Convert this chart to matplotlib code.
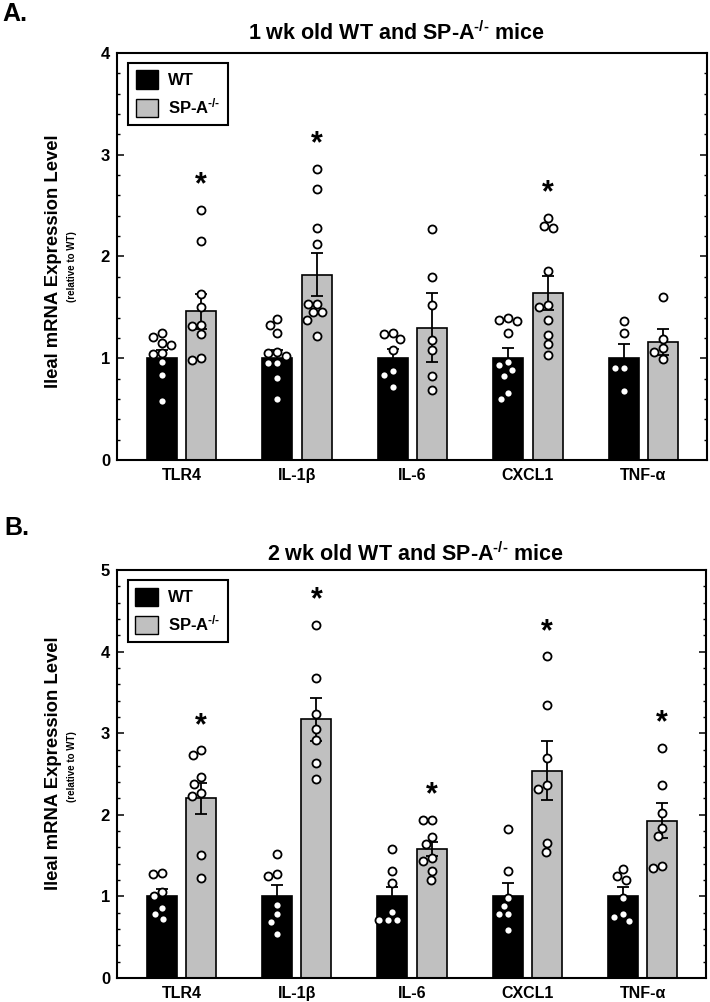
import numpy as np
import matplotlib
matplotlib.use('Agg')
import matplotlib.pyplot as plt
from matplotlib.ticker import MultipleLocator
from matplotlib.patches import Patch

plt.rcParams['font.family'] = ['Liberation Sans', 'DejaVu Sans']
plt.rcParams['font.weight'] = 'bold'
plt.rcParams['mathtext.fontset'] = 'custom'
plt.rcParams['mathtext.rm'] = 'Liberation Sans:bold'
plt.rcParams['mathtext.bf'] = 'Liberation Sans:bold'
plt.rcParams['mathtext.default'] = 'rm'

genes = ['TLR4', 'IL-1\u03b2', 'IL-6', 'CXCL1', 'TNF-\u03b1']
ko = 'SP-A$^{\u2010/\u2010}$'

# panel A : 1 wk old
a_wt_mean = [1.0, 1.0, 1.0, 1.0, 1.0]
a_wt_sem = [0.08, 0.08, 0.09, 0.10, 0.14]
a_ko_mean = [1.46, 1.82, 1.30, 1.64, 1.16]
a_ko_sem = [0.17, 0.21, 0.34, 0.17, 0.13]
a_wt_pts = [[1.25, 1.21, 1.15, 1.13, 1.05, 1.04, 0.96, 0.84, 0.58],
            [1.39, 1.33, 1.25, 1.06, 1.05, 1.02, 0.95, 0.95, 0.81, 0.60],
            [1.25, 1.24, 1.19, 1.08, 0.87, 0.84, 0.72],
            [1.40, 1.38, 1.37, 1.25, 0.96, 0.93, 0.88, 0.83, 0.66, 0.60],
            [1.37, 1.25, 0.90, 0.90, 0.68]]
a_ko_pts = [[2.46, 2.15, 1.63, 1.50, 1.33, 1.32, 1.24, 1.00, 0.98],
            [2.86, 2.66, 2.28, 2.12, 1.53, 1.53, 1.45, 1.45, 1.38, 1.22],
            [2.27, 1.80, 1.52, 1.18, 1.08, 0.83, 0.69],
            [2.38, 2.30, 2.28, 1.86, 1.52, 1.50, 1.38, 1.23, 1.14, 1.03],
            [1.60, 1.19, 1.10, 1.06, 0.99]]
a_star = [True, True, False, True, False]

# panel B : 2 wk old
b_wt_mean = [1.0, 1.0, 1.0, 1.0, 1.0]
b_wt_sem = [0.09, 0.14, 0.12, 0.17, 0.11]
b_ko_mean = [2.20, 3.17, 1.58, 2.54, 1.93]
b_ko_sem = [0.19, 0.26, 0.09, 0.36, 0.21]
b_wt_pts = [[1.29, 1.27, 1.06, 1.00, 0.86, 0.78, 0.72],
            [1.52, 1.27, 1.25, 0.90, 0.78, 0.69, 0.54],
            [1.58, 1.31, 1.17, 0.81, 0.71, 0.71, 0.71],
            [1.83, 1.31, 0.98, 0.88, 0.78, 0.78, 0.59],
            [1.34, 1.25, 1.20, 0.98, 0.79, 0.75, 0.70]]
b_ko_pts = [[2.79, 2.73, 2.46, 2.38, 2.27, 2.23, 1.51, 1.23],
            [4.33, 3.68, 3.24, 3.05, 2.92, 2.64, 2.44],
            [1.94, 1.94, 1.73, 1.64, 1.47, 1.43, 1.31, 1.20],
            [3.94, 3.35, 2.70, 2.37, 2.32, 1.65, 1.54],
            [2.82, 2.36, 2.02, 1.84, 1.74, 1.37, 1.35]]
b_star = [True, True, True, True, True]

GRAY = '#c0c0c0'
W = 0.26
OFF = 0.17
DIAM = 8.5  # marker diameter in px


def swarm(ax, xc, vals):
    # simple beeswarm in pixel space, returns x data positions
    pix = ax.transData.transform([(xc, v) for v in vals])
    placed = []
    xs = []
    for px, py in pix:
        best = None
        for d in range(0, 40):
            for cand in ([0] if d == 0 else [-d, d]):
                ok = all((cand - qx) ** 2 + (py - qy) ** 2 >= (DIAM + 0.5) ** 2 for qx, qy in placed)
                if ok:
                    best = cand
                    break
            if best is not None:
                break
        placed.append((best, py))
        xs.append(px + best)
    inv = ax.transData.inverted()
    return [inv.transform((x, py))[0] for x, (_, py) in zip(xs, pix)]


def panel(ax, wt_m, wt_s, ko_m, ko_s, wt_p, ko_p, stars, ymax):
    x = np.arange(len(genes))
    ax.set_xlim(-0.56, 4.55)
    ax.set_ylim(0, ymax)
    ax.bar(x - OFF, wt_m, W, color='black', edgecolor='black', lw=1.2, zorder=2)
    ax.bar(x + OFF, ko_m, W, color=GRAY, edgecolor='black', lw=1.2, zorder=2)
    ax.errorbar(x - OFF, wt_m, yerr=wt_s, fmt='none', ecolor='black', elinewidth=1.3,
                capsize=4.5, capthick=1.3, zorder=3)
    ax.errorbar(x + OFF, ko_m, yerr=ko_s, fmt='none', ecolor='black', elinewidth=1.3,
                capsize=4.5, capthick=1.3, zorder=3)
    for i in range(len(genes)):
        for xc, pts in ((x[i] - OFF, wt_p[i]), (x[i] + OFF, ko_p[i])):
            xs = swarm(ax, xc, pts)
            ax.plot(xs, pts, 'o', ms=5.8, mfc='white', mec='black', mew=1.3,
                    ls='none', zorder=4)
        if stars[i]:
            ax.annotate('*', xy=(x[i] + OFF, max(ko_p[i])), xytext=(0, 17.5),
                        textcoords='offset points', ha='center', va='center',
                        fontsize=22, fontweight='bold')
    ax.set_xticks(x)
    ax.set_xticklabels(genes, fontsize=11.5, fontweight='bold')
    ax.tick_params(axis='x', length=0, pad=6)
    ax.yaxis.set_major_locator(MultipleLocator(1))
    ax.yaxis.set_minor_locator(MultipleLocator(0.2))
    ax.tick_params(axis='y', which='both', direction='in', left=True, right=True,
                   labelsize=12, pad=5)
    ax.tick_params(axis='y', which='major', length=5, width=1.1)
    ax.tick_params(axis='y', which='minor', length=2.5, width=1.0)
    for lab in ax.get_yticklabels():
        lab.set_fontweight('bold')
    for sp in ax.spines.values():
        sp.set_linewidth(1.5)
    handles = [Patch(facecolor='black', edgecolor='black', lw=1.0, label='WT'),
               Patch(facecolor=GRAY, edgecolor='black', lw=1.0, label=ko)]
    leg = ax.legend(handles=handles, loc='upper left', bbox_to_anchor=(11 / 590, 1 - 10 / 407),
                    borderaxespad=0, fancybox=False, edgecolor='black', framealpha=1,
                    handlelength=1.35, handleheight=1.35, handletextpad=0.6,
                    labelspacing=0.45, borderpad=0.45, prop={'size': 12, 'weight': 'bold'})
    leg.get_frame().set_linewidth(1.5)


fig = plt.figure(figsize=(7.1, 10.02), dpi=100)
ax1 = fig.add_axes([117 / 710, 1 - 460 / 1002, 590 / 710, 407 / 1002])
ax2 = fig.add_axes([117 / 710, 1 - 978 / 1002, 589 / 710, 408 / 1002])

panel(ax1, a_wt_mean, a_wt_sem, a_ko_mean, a_ko_sem, a_wt_pts, a_ko_pts, a_star, 4)
panel(ax2, b_wt_mean, b_wt_sem, b_ko_mean, b_ko_sem, b_wt_pts, b_ko_pts, b_star, 5)

fig.text(397 / 710, 1 - 33 / 1002, '1 wk old WT and ' + ko + ' mice', ha='center', va='center',
         fontsize=15.5, fontweight='bold')
fig.text(416 / 710, 1 - 554 / 1002, '2 wk old WT and ' + ko + ' mice', ha='center', va='center',
         fontsize=15.5, fontweight='bold')
fig.text(2 / 710, 1 - 14 / 1002, 'A.', ha='left', va='center', fontsize=18, fontweight='bold')
fig.text(4 / 710, 1 - 528 / 1002, 'B.', ha='left', va='center', fontsize=18, fontweight='bold')

for yc, ys in ((261, 267), (763, 767)):
    fig.text(54 / 710, 1 - yc / 1002, 'Ileal mRNA Expression Level', rotation=90,
             ha='center', va='center', fontsize=13.3, fontweight='bold')
    fig.text(72 / 710, 1 - ys / 1002, '(relative to WT)', rotation=90,
             ha='center', va='center', fontsize=7, fontweight='bold')

fig.savefig('out.png', dpi=100)
